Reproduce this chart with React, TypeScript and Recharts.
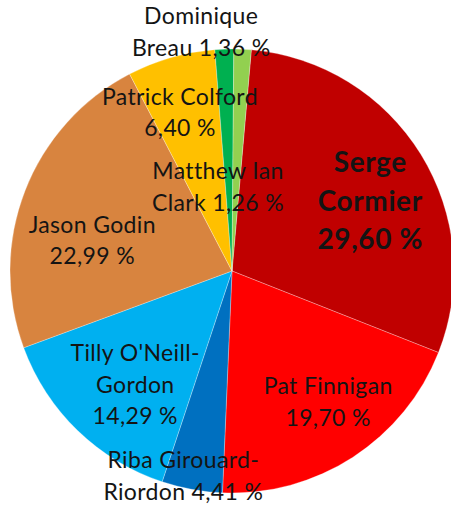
import React from 'react';
import { PieChart, Pie, Cell } from 'recharts';

const candidates = [
  'Serge Cormier',
  'Pat Finnigan',
  'Riba Girouard-Riordon',
  "Tilly O'Neill-Gordon",
  'Jason Godin',
  'Patrick Colford',
  'Dominique Breau',
  'Matthew Ian Clark',
];
const shares = [29.6, 19.7, 4.41, 14.29, 22.99, 6.4, 1.36, 1.26];
const colors = ['#C00000', '#FF0000', '#0070C0', '#00B0F0', '#D8843F', '#FFC000', '#00B050', '#92D050'];

// labels were dragged by hand in the original, so place them per slice:
// r = share of the radius, turn = clockwise nudge from the mid angle (deg), lines = words per line
const labelLayout = [
  { r: 0.697, turn: 4.8, lines: [1, 1, 1], bold: true },
  { r: 0.732, turn: -3.2, lines: [2, 1] },
  { r: 0.95, turn: 3.0, lines: [2, 2] },
  { r: 0.673, turn: -3.6, lines: [2, 1, 1] },
  { r: 0.645, turn: -8.9, lines: [2, 1] },
  { r: 0.751, turn: -2.3, lines: [2, 1] },
  { r: 1.086, turn: -5.4, lines: [1, 2] },
  { r: 0.384, turn: -12.3, lines: [2, 2] },
];

const data = candidates.map((name, i) => ({ name, value: shares[i] }));

const RAD = Math.PI / 180;
const FONT = 'Lato, Calibri, "Open Sans", sans-serif';

const pct = (v: number) => v.toFixed(2).replace('.', ',') + '\u00a0%';

const labelLines = (i: number) => {
  const words = [...candidates[i].split(/\s+|(?<=-)/), pct(shares[i])];
  const out: string[] = [];
  let k = 0;
  labelLayout[i].lines.forEach((count) => {
    const part = words.slice(k, k + count);
    k += count;
    out.push(part.reduce((acc, w) => (acc === '' ? w : acc.endsWith('-') ? acc + w : acc + ' ' + w), ''));
  });
  return out;
};

const SliceLabel = (props: any) => {
  const { cx, cy, midAngle, outerRadius, index } = props;
  const lay = labelLayout[index];
  const a = (midAngle - lay.turn) * RAD;
  const R = outerRadius * lay.r;
  const x = cx + R * Math.cos(a);
  const y = cy - R * Math.sin(a);
  const size = lay.bold ? 28 : 23;
  const spacing = lay.bold ? 0.6 : 0.35;
  const lh = lay.bold ? 38.5 : 31.5;
  const lines = labelLines(index);
  const top = y - ((lines.length - 1) / 2) * lh + size * 0.35;
  return (
    <text
      textAnchor="middle"
      fontFamily={FONT}
      fontSize={size}
      fontWeight={lay.bold ? 700 : 400}
      letterSpacing={spacing}
      fill="#141414"
    >
      {lines.map((ln, k) => (
        <tspan key={k} x={x + spacing / 2} y={top + k * lh}>
          {ln}
        </tspan>
      ))}
    </text>
  );
};

export default function App() {
  return (
    <div style={{ position: 'absolute', left: 0, top: 0, width: 451, height: 508, background: '#fff' }}>
      <PieChart width={451} height={508} margin={{ top: 0, right: 0, bottom: 0, left: 0 }}>
        <Pie
          data={data}
          dataKey="value"
          nameKey="name"
          cx={232}
          cy={271}
          outerRadius={222}
          startAngle={85}
          endAngle={-275}
          stroke="#ffffff"
          strokeWidth={0.7}
          strokeOpacity={0.4}
          label={SliceLabel}
          labelLine={false}
          isAnimationActive={false}
        >
          {data.map((d, i) => (
            <Cell key={d.name} fill={colors[i]} />
          ))}
        </Pie>
      </PieChart>
    </div>
  );
}
